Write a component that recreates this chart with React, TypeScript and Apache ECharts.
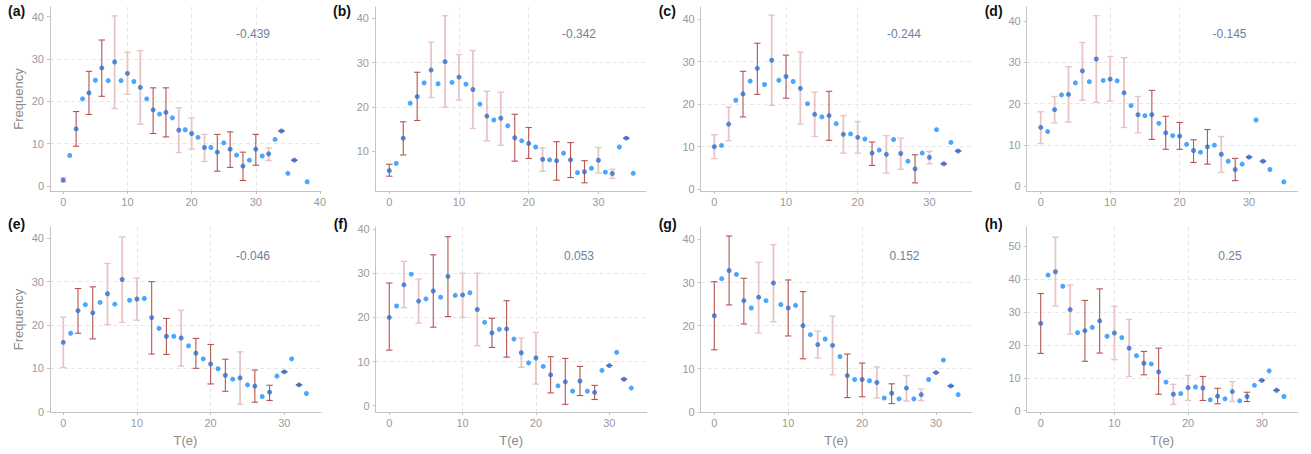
import React, { useEffect, useRef } from 'react';
import * as echarts from 'echarts';

// ---------- data ----------
const panelLabels = ['(a)', '(b)', '(c)', '(d)', '(e)', '(f)', '(g)', '(h)'];
const correlations = ['-0.439', '-0.342', '-0.244', '-0.145', '-0.046', '0.053', '0.152', '0.25'];

const aX = [0,1,2,3,4,5,6,7,8,9,10,11,12,13,14,15,16,17,18,19,20,21,22,23,24,25,26,27,28,29,30,31,32,33,34,35,36,38];
const aY = [1.4,7.2,13.5,20.6,22.0,25.0,27.9,24.9,29.3,24.9,26.6,24.7,23.3,20.6,18.0,17.0,17.4,16.1,13.2,13.3,12.4,11.5,9.1,9.1,8.0,10.2,8.7,7.3,4.7,6.1,8.7,7.1,7.6,11.0,13.0,3.0,6.1,1.0];
const aErrX = [0,2,4,6,8,10,12,14,16,18,20,22,24,26,28,30,32,34,36];
const aErrLo = [0.94,9.4,16.9,21.2,18.3,21.7,14.6,12.4,11.6,7.9,8.7,5.8,3.5,4.4,1.3,4.9,6.0,13.0,6.1];
const aErrHi = [1.97,17.6,27.1,34.5,40.2,31.6,32.0,23.2,23.2,18.5,16.1,12.2,12.2,12.8,8.0,12.2,9.0,13.0,6.1];
const aErrTone = [0,1,1,1,0,0,0,1,1,0,0,0,1,1,1,1,0,1,1];

const bX = [0,1,2,3,4,5,6,7,8,9,10,11,12,13,14,15,16,17,18,19,20,21,22,23,24,25,26,27,28,29,30,31,32,33,34,35];
const bY = [5.55,7.2,12.9,20.8,22.3,25.4,28.3,25.2,30.2,25.5,26.7,25.1,23.9,20.6,17.9,17.0,17.4,15.7,13.0,12.3,11.7,10.9,8.1,8.0,7.8,9.5,8.0,5.1,5.3,6.1,7.9,5.2,4.9,10.9,12.9,4.95];
const bErrX = [0,2,4,6,8,10,12,14,16,18,20,22,24,26,28,30,32,34];
const bErrLo = [4.3,9.1,16.9,22.1,19.9,21.5,15.1,12.3,11.3,7.7,8.3,5.4,3.4,4.0,2.8,5.0,3.8,12.9];
const bErrHi = [7.0,16.6,27.8,34.6,40.6,31.8,32.7,23.5,23.3,18.3,15.3,10.7,12.1,11.9,7.8,10.8,5.85,12.9];
const bErrTone = [1,1,1,0,0,0,0,0,0,1,1,0,1,1,1,0,0,1];

const cX = [0,1,2,3,4,5,6,7,8,9,10,11,12,13,14,15,16,17,18,19,20,21,22,23,24,25,26,27,28,29,30,31,32,33,34];
const cY = [10.0,10.3,15.3,20.9,22.4,25.4,28.4,24.6,30.3,25.6,26.5,25.3,23.7,20.1,17.6,17.0,17.3,15.4,12.9,13.0,12.2,11.8,8.5,9.2,8.2,11.7,8.4,6.6,4.8,8.5,7.5,14.0,6.0,11.0,9.0];
const cErrX = [0,2,4,6,8,10,12,14,16,18,20,22,24,26,28,30,32,34];
const cErrLo = [7.2,11.4,17.0,22.3,19.7,21.4,15.3,12.4,11.5,8.5,8.5,5.6,3.8,4.7,1.5,6.0,6.0,9.0];
const cErrHi = [12.8,19.3,27.7,34.3,40.9,31.5,32.2,22.8,23.0,17.3,15.9,11.1,12.6,12.0,8.1,8.9,6.0,9.0];
const cErrTone = [0,0,1,1,0,1,0,0,1,0,0,1,0,0,1,0,1,1];

const dX = [0,1,2,3,4,5,6,7,8,9,10,11,12,13,14,15,16,17,18,19,20,21,22,23,24,25,26,27,28,29,30,31,32,33,35];
const dY = [14.2,13.2,18.5,22.1,22.2,25.0,27.9,25.3,30.8,25.6,25.9,25.5,22.6,19.5,17.3,17.05,17.3,15.2,12.9,12.2,12.1,10.1,8.6,8.2,9.5,9.9,7.7,6.0,4.0,5.3,7.0,16.0,6.0,4.0,1.0];
const dErrX = [0,2,4,6,8,10,12,14,16,18,20,22,24,26,28,30,32];
const dErrLo = [10.3,15.3,15.5,20.8,20.3,20.6,14.2,12.9,11.3,8.9,8.9,5.7,5.3,3.3,1.3,7.0,6.0];
const dErrHi = [18.0,21.7,28.9,34.8,41.3,31.4,31.1,21.7,23.2,16.9,15.4,11.2,13.7,12.0,6.7,7.0,6.0];
const dErrTone = [0,0,0,0,0,0,0,0,1,1,1,1,1,0,1,1,1];

const eX = [0,1,2,3,4,5,6,7,8,9,10,11,12,13,14,15,16,17,18,19,20,21,22,23,24,25,26,27,28,29,30,31,32,33];
const eY = [16.0,18.1,23.3,24.7,22.8,25.2,27.2,24.8,30.5,25.7,26.0,26.1,21.7,19.2,17.4,17.4,17.0,15.2,13.5,12.2,11.0,9.9,8.4,7.5,7.8,6.2,5.9,3.5,4.5,8.2,9.2,12.2,6.2,4.2];
const eErrX = [0,2,4,6,8,10,12,14,16,18,20,22,24,26,28,30,32];
const eErrLo = [10.2,18.1,16.8,20.1,20.6,21.1,13.3,13.2,10.5,10.0,6.4,4.7,1.7,2.2,2.6,9.2,6.2];
const eErrHi = [21.8,28.4,28.8,34.2,40.3,30.8,30.0,21.5,23.4,16.9,15.5,12.1,13.8,9.6,6.1,9.2,6.2];
const eErrTone = [0,1,1,0,0,0,1,1,0,1,1,1,0,1,1,1,1];

const fX = [0,1,2,3,4,5,6,7,8,9,10,11,12,13,14,15,16,17,18,19,20,21,22,23,24,25,26,27,28,29,30,31,32,33];
const fY = [20.0,22.6,27.4,29.8,23.7,24.2,26.0,24.6,29.3,25.0,25.1,25.6,21.8,18.9,16.5,17.3,17.4,15.1,12.0,9.7,10.8,8.9,7.0,4.5,5.4,3.3,5.6,3.3,3.0,8.0,9.1,12.1,6.0,4.0];
const fErrX = [0,2,4,6,8,10,12,14,16,18,20,22,24,26,28,30,32];
const fErrLo = [12.6,22.2,18.7,17.8,20.2,20.0,13.6,13.2,11.0,8.7,4.9,2.9,0.3,2.3,1.4,9.1,6.0];
const fErrHi = [27.8,32.7,28.7,34.2,38.3,30.0,30.0,19.8,23.8,15.3,16.6,11.1,10.7,8.9,4.6,9.1,6.0];
const fErrTone = [1,0,0,1,1,0,0,1,1,0,0,1,1,1,1,1,1];

const gX = [0,1,2,3,4,5,6,7,8,9,10,11,12,13,14,15,16,17,18,19,20,21,22,23,24,25,26,27,28,29,30,31,32,33];
const gY = [22.3,30.9,32.8,31.9,25.8,24.1,26.6,25.8,29.9,24.9,24.1,24.7,20.0,17.9,15.6,16.9,15.4,12.8,8.4,7.5,7.5,7.2,6.8,3.2,4.3,3.0,5.5,3.0,4.0,7.5,9.1,12.0,6.0,4.0];
const gErrX = [0,2,4,6,8,10,12,14,16,18,20,22,24,26,28,30,32];
const gErrLo = [14.4,24.8,20.4,18.3,20.9,17.6,12.3,12.5,8.6,3.3,3.5,3.2,1.9,2.5,2.6,9.1,6.0];
const gErrHi = [30.2,40.8,31.0,34.7,38.8,30.6,27.9,18.7,22.2,13.4,11.3,10.4,6.5,8.4,5.3,9.1,6.0];
const gErrTone = [1,1,1,0,0,1,1,0,0,1,1,0,1,0,0,1,1];

const hX = [0,1,2,3,4,5,6,7,8,9,10,11,12,13,14,15,16,17,18,19,20,21,22,23,24,25,26,27,28,29,30,31,32,33];
const hY = [26.5,41.2,42.2,37.8,30.7,23.7,24.3,25.3,27.3,22.6,23.6,22.2,19.0,16.7,14.4,14.2,11.8,8.7,5.0,5.2,7.0,7.2,6.9,3.3,4.4,3.6,5.8,3.0,4.3,7.7,9.2,12.1,6.2,4.3];
const hErrX = [0,2,4,6,8,10,12,14,16,18,20,22,24,26,28,30,32];
const hErrLo = [17.4,31.8,23.3,15.0,17.5,15.5,10.4,10.9,5.0,1.9,3.1,3.1,2.1,2.8,2.8,9.2,6.2];
const hErrHi = [35.6,52.7,38.2,33.5,37.0,31.7,27.7,18.0,19.0,8.0,10.7,10.4,6.8,8.8,5.6,9.2,6.2];
const hErrTone = [1,0,0,1,1,0,0,1,1,0,0,1,1,0,1,1,1];

const xTicksA = [0, 10, 20, 30, 40];
const xTicksOther = [0, 10, 20, 30];
const yTicks40 = [0, 10, 20, 30, 40];
const yTicksB = [10, 20, 30, 40];
const yTicksH = [0, 10, 20, 30, 40, 50];

const panels = [
  { x: aX, y: aY, ex: aErrX, lo: aErrLo, hi: aErrHi, tone: aErrTone, xt: xTicksA, yt: yTicks40 },
  { x: bX, y: bY, ex: bErrX, lo: bErrLo, hi: bErrHi, tone: bErrTone, xt: xTicksOther, yt: yTicksB },
  { x: cX, y: cY, ex: cErrX, lo: cErrLo, hi: cErrHi, tone: cErrTone, xt: xTicksOther, yt: yTicks40 },
  { x: dX, y: dY, ex: dErrX, lo: dErrLo, hi: dErrHi, tone: dErrTone, xt: xTicksOther, yt: yTicks40 },
  { x: eX, y: eY, ex: eErrX, lo: eErrLo, hi: eErrHi, tone: eErrTone, xt: xTicksOther, yt: yTicks40 },
  { x: fX, y: fY, ex: fErrX, lo: fErrLo, hi: fErrHi, tone: fErrTone, xt: xTicksOther, yt: yTicks40 },
  { x: gX, y: gY, ex: gErrX, lo: gErrLo, hi: gErrHi, tone: gErrTone, xt: xTicksOther, yt: yTicks40 },
  { x: hX, y: hY, ex: hErrX, lo: hErrLo, hi: hErrHi, tone: hErrTone, xt: xTicksOther, yt: yTicksH },
];

// ---------- layout ----------
const layout = [
  { left: 50, top: 7, h: 184, xMin: -2.07, xMax: 40.16, yMin: -1.18, yMax: 42.3 },
  { left: 375, top: 7, h: 184, xMin: -2.05, xMax: 36.83, yMin: 0.95, yMax: 42.56 },
  { left: 700.7, top: 7, h: 184, xMin: -1.9, xMax: 35.9, yMin: -0.4, yMax: 42.8 },
  { left: 1026.7, top: 7, h: 184, xMin: -2.02, xMax: 37.0, yMin: -1.21, yMax: 43.4 },
  { left: 50, top: 227, h: 185, xMin: -1.8, xMax: 34.98, yMin: -0.07, yMax: 42.6 },
  { left: 375.7, top: 227, h: 185, xMin: -1.85, xMax: 35.1, yMin: -1.43, yMax: 40.5 },
  { left: 700.7, top: 227, h: 185, xMin: -1.84, xMax: 34.83, yMin: -0.05, yMax: 42.9 },
  { left: 1026.7, top: 227, h: 185, xMin: -1.9, xMax: 34.87, yMin: -0.4, yMax: 55.8 },
];
const PANEL_W = 271;
const FONT = 'Liberation Sans, Arial, sans-serif';
const TICK_COLOR = '#9a9a9a';
const AXIS_COLOR = '#c4c4c4';

export default function App() {
  const ref = useRef<HTMLDivElement>(null);
  useEffect(() => {
    if (!ref.current) return;
    const chart = echarts.init(ref.current, undefined, { renderer: 'svg' });

    const grid = layout.map((l) => ({ left: l.left, top: l.top, width: PANEL_W, height: l.h, containLabel: false }));

    const xAxis = layout.map((l, i) => ({
      type: 'value',
      gridIndex: i,
      min: l.xMin,
      max: l.xMax,
      splitNumber: 5,
      name: i >= 4 ? 'T(e)' : '',
      nameLocation: 'middle',
      nameGap: 22,
      nameTextStyle: { color: '#8a8a8a', fontSize: 13, fontFamily: FONT },
      axisLine: { show: true, onZero: false, lineStyle: { color: AXIS_COLOR, width: 1 } },
      axisTick: { show: true, length: 3, lineStyle: { color: AXIS_COLOR }, customValues: panels[i].xt },
      axisLabel: { color: TICK_COLOR, fontSize: 11, margin: 5, fontFamily: FONT, customValues: panels[i].xt },
      splitLine: { show: true, showMinLine: false, showMaxLine: false, lineStyle: { color: '#e6e6e6', type: [4, 3], width: 1 } },
    }));

    const yAxis = layout.map((l, i) => ({
      type: 'value',
      gridIndex: i,
      min: l.yMin,
      max: l.yMax,
      splitNumber: 5,
      name: i === 0 || i === 4 ? 'Frequency' : '',
      nameLocation: 'middle',
      nameGap: 25,
      nameTextStyle: { color: '#8a8a8a', fontSize: 13, fontFamily: FONT },
      axisLine: { show: true, onZero: false, lineStyle: { color: AXIS_COLOR, width: 1 } },
      axisTick: { show: true, length: 3, lineStyle: { color: AXIS_COLOR }, customValues: panels[i].yt },
      axisLabel: { color: TICK_COLOR, fontSize: 11, margin: 6, fontFamily: FONT, customValues: panels[i].yt },
      splitLine: { show: true, showMinLine: false, showMaxLine: false, lineStyle: { color: '#e6e6e6', type: [4, 3], width: 1 } },
    }));

    const series: any[] = [];
    panels.forEach((p, i) => {
      series.push({
        type: 'custom',
        xAxisIndex: i,
        yAxisIndex: i,
        z: 2,
        encode: { x: 0, y: [1, 2] },
        data: p.ex.map((x, j) => [x, p.lo[j], p.hi[j], p.tone[j]]),
        renderItem: (params: any, api: any) => {
          const x = api.value(0);
          const lo = api.value(1);
          const hi = api.value(2);
          const dark = api.value(3) === 1;
          const top = api.coord([x, hi]);
          const bot = api.coord([x, lo]);
          const color = dark ? '#b55450' : '#e8c5c4';
          const lw = dark ? 1.1 : 1.8;
          const capW = dark ? 1.1 : 1.4;
          const hw = 3.2;
          return {
            type: 'group',
            children: [
              { type: 'line', shape: { x1: top[0], y1: top[1], x2: bot[0], y2: bot[1] }, style: { stroke: color, lineWidth: lw } },
              { type: 'line', shape: { x1: top[0] - hw, y1: top[1], x2: top[0] + hw, y2: top[1] }, style: { stroke: color, lineWidth: capW } },
              { type: 'line', shape: { x1: bot[0] - hw, y1: bot[1], x2: bot[0] + hw, y2: bot[1] }, style: { stroke: color, lineWidth: capW } },
            ],
          };
        },
      });
      series.push({
        type: 'scatter',
        xAxisIndex: i,
        yAxisIndex: i,
        z: 3,
        symbol: 'circle',
        symbolSize: 5,
        data: p.x.map((x, j) => ({
          value: [x, p.y[j]],
          itemStyle: { color: p.ex.includes(x) ? '#2a6ed1' : '#1e90ff' },
        })),
      });
    });

    const annX = [253, 579, 904, 1229.5, 253, 579, 904.5, 1230];
    const graphic: any[] = [];
    layout.forEach((l, i) => {
      const row2 = i >= 4;
      graphic.push({
        type: 'text',
        left: l.left - 42,
        top: row2 ? 217 : 4,
        style: { text: panelLabels[i], fill: '#111', font: `bold 14px ${FONT}` },
      });
      graphic.push({
        type: 'text',
        x: annX[i],
        y: row2 ? 256 : 34,
        style: { text: correlations[i], fill: '#72809a', font: `12px ${FONT}`, textAlign: 'center', textVerticalAlign: 'middle' },
      });
    });

    chart.setOption({
      animation: false,
      backgroundColor: '#ffffff',
      grid,
      xAxis,
      yAxis,
      series,
      graphic,
    });
    return () => chart.dispose();
  }, []);

  return <div ref={ref} style={{ position: 'fixed', left: 0, top: 0, width: 1311, height: 454 }} />;
}
